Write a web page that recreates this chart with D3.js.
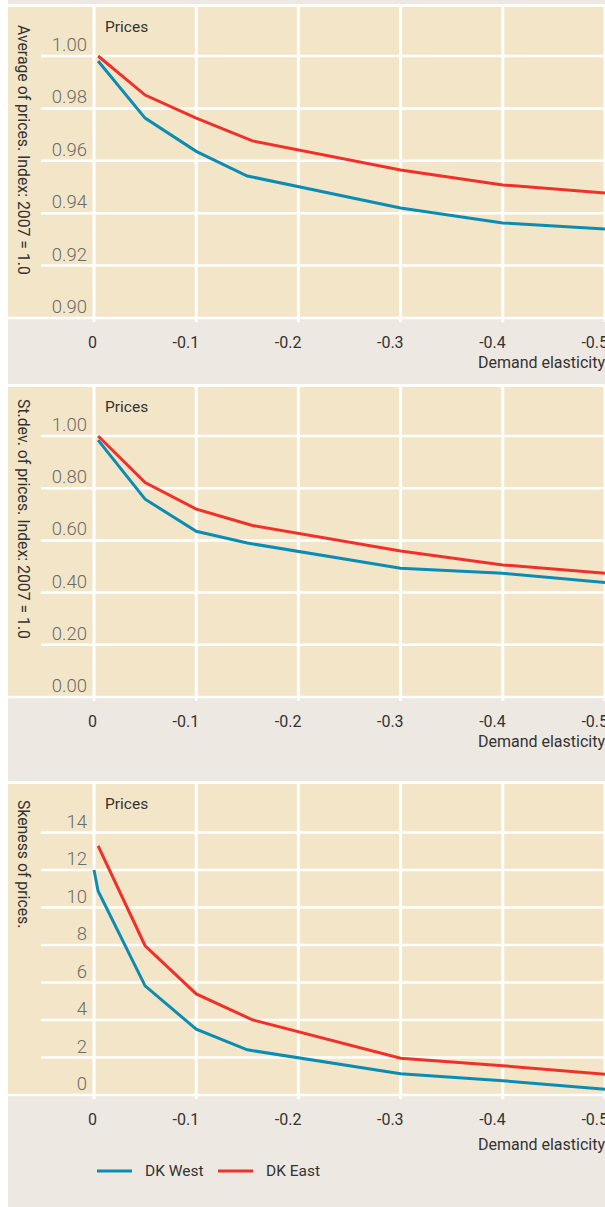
<!DOCTYPE html>
<html>
  <head>
    <title></title>
    <meta charset="UTF-8" />
    <script src="https://cdn.jsdelivr.net/npm/d3@7"></script>
    <style>
      body { margin: 0; background: #fff; }
      svg { display: block; }
    </style>
  </head>
  <body>
    <svg></svg>
    <script>
      // 1. data
      const xTicks = [0, -0.1, -0.2, -0.3, -0.4, -0.5];
      const eastX = [-0.004, -0.05, -0.1, -0.155, -0.3, -0.4, -0.5];
      const westX = [-0.004, -0.05, -0.1, -0.15, -0.3, -0.4, -0.5];
      const skewWestX = [0, -0.004, -0.05, -0.1, -0.15, -0.3, -0.4, -0.5];

      const avgEast = [1.0, 0.9851, 0.9763, 0.9676, 0.9565, 0.9508, 0.9477];
      const avgWest = [0.9981, 0.9763, 0.9636, 0.9542, 0.942, 0.9363, 0.934];
      const sdEast = [1.0, 0.822, 0.72, 0.657, 0.559, 0.506, 0.474];
      const sdWest = [0.984, 0.758, 0.635, 0.59, 0.493, 0.474, 0.439];
      const skewEast = [13.29, 7.96, 5.39, 4.01, 1.96, 1.56, 1.11];
      const skewWest = [12.0, 10.88, 5.82, 3.51, 2.41, 1.13, 0.76, 0.31];

      const avgTicks = [0.9, 0.92, 0.94, 0.96, 0.98, 1.0];
      const sdTicks = [0, 0.2, 0.4, 0.6, 0.8, 1.0];
      const skewTicks = [0, 2, 4, 6, 8, 10, 12, 14];

      const titles = [
        'Average of prices. Index: 2007 = 1.0',
        'St.dev. of prices. Index: 2007 = 1.0',
        'Skeness of prices.'
      ];
      const seriesNames = ['DK West', 'DK East'];

      // 2. setup
      const width = 605;
      const height = 1207;
      const colorWest = '#0a8cb3';
      const colorEast = '#f0302a';
      const tan = '#f3e6c8';
      const grey = '#ede9e2';
      const font = 'Roboto, "Open Sans", sans-serif';
      // hyphen instead of unicode minus, like the original
      const fmtX = (d) => (d === 0 ? '0' : d3.format('.1f')(d).replace('\u2212', '-'));

      const svg = d3
        .select('svg')
        .attr('width', width)
        .attr('height', height)
        .style('font-family', font);

      const x = d3.scaleLinear().domain([0, -0.5]).range([94, 605]);

      const panels = [
        {
          top: 7, bottom: 318, labelY: 368, titleY: 25,
          domain: [0.9, 1.0], y0: 56, ticks: avgTicks, fmt: d3.format('.2f'),
          west: westX.map((d, i) => [d, avgWest[i]]),
          east: eastX.map((d, i) => [d, avgEast[i]])
        },
        {
          top: 387, bottom: 697, labelY: 747, titleY: 399,
          domain: [0, 1.0], y0: 436, ticks: sdTicks, fmt: d3.format('.2f'),
          west: westX.map((d, i) => [d, sdWest[i]]),
          east: eastX.map((d, i) => [d, sdEast[i]])
        },
        {
          top: 784, bottom: 1095, labelY: 1150, titleY: 800,
          domain: [0, 14], y0: 832.5, ticks: skewTicks, fmt: d3.format('d'),
          west: skewWestX.map((d, i) => [d, skewWest[i]]),
          east: eastX.map((d, i) => [d, skewEast[i]])
        }
      ];

      // 3. background
      svg.append('rect')
        .attr('x', 8).attr('y', 0)
        .attr('width', width - 8).attr('height', height)
        .attr('fill', grey);

      // 4. panels
      panels.forEach((p, k) => {
        const y = d3.scaleLinear().domain(p.domain).range([p.bottom, p.y0]);
        const g = svg.append('g');

        g.append('rect')
          .attr('x', 8).attr('y', p.top - 3)
          .attr('width', width - 8).attr('height', 3)
          .attr('fill', '#fff');
        g.append('rect')
          .attr('x', 8).attr('y', p.top)
          .attr('width', width - 8).attr('height', p.bottom - p.top)
          .attr('fill', tan);

        // horizontal grid
        g.append('g')
          .selectAll('line')
          .data(p.ticks)
          .join('line')
          .attr('x1', (d, i) => (i === 0 ? 8 : 41))
          .attr('x2', width)
          .attr('y1', (d) => y(d))
          .attr('y2', (d) => y(d))
          .attr('stroke', '#fff')
          .attr('stroke-width', 2.5);

        // vertical grid
        g.append('g')
          .selectAll('line')
          .data(xTicks)
          .join('line')
          .attr('x1', (d) => x(d))
          .attr('x2', (d) => x(d))
          .attr('y1', p.top)
          .attr('y2', p.bottom + 4)
          .attr('stroke', '#fff')
          .attr('stroke-width', 3);

        // y tick labels
        g.append('g')
          .selectAll('text')
          .data(p.ticks)
          .join('text')
          .attr('x', 87)
          .attr('y', (d) => y(d) - 5)
          .attr('text-anchor', 'end')
          .attr('font-size', 18.5)
          .attr('font-weight', 300)
          .attr('fill', '#6b6b6b')
          .text(p.fmt);

        // x tick labels
        g.append('g')
          .selectAll('text')
          .data(xTicks)
          .join('text')
          .attr('x', (d) => x(d) + 3)
          .attr('y', p.bottom + 30)
          .attr('text-anchor', 'end')
          .attr('font-size', 16)
          .attr('fill', '#333')
          .text(fmtX);

        g.append('text')
          .attr('x', width)
          .attr('y', p.labelY)
          .attr('text-anchor', 'end')
          .attr('font-size', 16)
          .attr('fill', '#333')
          .text('Demand elasticity');

        g.append('text')
          .attr('x', 105)
          .attr('y', p.top + 25)
          .attr('font-size', 15.5)
          .attr('fill', '#333')
          .text('Prices');

        g.append('text')
          .attr('transform', `translate(18,${p.titleY}) rotate(90)`)
          .attr('font-size', 15.8)
          .attr('fill', '#333')
          .text(titles[k]);

        // lines
        const line = d3
          .line()
          .x((d) => x(d[0]))
          .y((d) => y(d[1]));

        g.append('path')
          .attr('d', line(p.west))
          .attr('fill', 'none')
          .attr('stroke', colorWest)
          .attr('stroke-width', 3);
        g.append('path')
          .attr('d', line(p.east))
          .attr('fill', 'none')
          .attr('stroke', colorEast)
          .attr('stroke-width', 3);
      });

      // 5. legend
      const legend = svg
        .append('g')
        .selectAll('g')
        .data(seriesNames)
        .join('g')
        .attr('transform', (d, i) => `translate(${97 + i * 121},1171)`);
      legend
        .append('line')
        .attr('x1', 0)
        .attr('x2', 35)
        .attr('stroke', (d, i) => (i === 0 ? colorWest : colorEast))
        .attr('stroke-width', 3);
      legend
        .append('text')
        .attr('x', 48)
        .attr('y', 5)
        .attr('font-size', 15.5)
        .attr('fill', '#333')
        .text((d) => d);
    </script>
  </body>
</html>
